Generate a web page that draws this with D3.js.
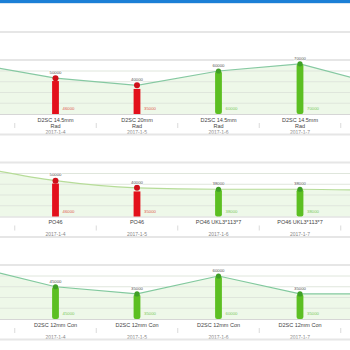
<!DOCTYPE html>
<html><head><meta charset="utf-8">
<script src="https://cdn.jsdelivr.net/npm/d3@7/dist/d3.min.js"></script>
<style>html,body{margin:0;padding:0;background:#fff;}svg{display:block;font-family:"Liberation Sans",Arial,sans-serif;}</style>
</head><body><svg id="c" width="350" height="350"></svg>
<script>
// ---- data ----
const dates = ["2017-1-4","2017-1-5","2017-1-6","2017-1-7"];
const gridTicks = [0,15000,30000,45000,60000];

const p1Labels = [["D2SC 14.5mm","Rad"],["D2SC 20mm","Rad"],["D2SC 14.5mm","Rad"],["D2SC 14.5mm","Rad"]];
const p1Plan   = [50000,40000,60000,70000];
const p1Actual = [46000,35000,60000,70000];
const p1Edges  = [70000,40000]; // line values of the neighbouring (off-screen) days

const p2Labels = [["PO46"],["PO46"],["PO46  UKL3*113*7"],["PO46  UKL3*113*7"]];
const p2Plan   = [50000,40000,38000,38000];
const p2Actual = [46000,35000,38000,38000];
const p2Edges  = [70000,36000];

const p3Labels = [["D2SC 12mm Con"],["D2SC 12mm Con"],["D2SC 12mm Con"],["D2SC 12mm Con"]];
const p3Plan   = [45000,35000,60000,35000];
const p3Actual = [45000,35000,60000,35000];
const p3Edges  = [73000,35000];

const panels = [
  {labels:p1Labels, plan:p1Plan, actual:p1Actual, edges:p1Edges, line:"#86c9a2", curve:d3.curveLinear},
  {labels:p2Labels, plan:p2Plan, actual:p2Actual, edges:p2Edges, line:"#b6dc98", curve:d3.curveMonotoneX},
  {labels:p3Labels, plan:p3Plan, actual:p3Actual, edges:p3Edges, line:"#82c99e", curve:d3.curveLinear}
];

// ---- drawing ----
const svg = d3.select("#c");
const W = 350;
svg.append("rect").attr("x",0).attr("y",0).attr("width",W).attr("height",3).attr("fill","#1c7fd6");
svg.append("rect").attr("x",0).attr("y",3).attr("width",W).attr("height",1).attr("fill","#d8e6f3");

const x = d3.scaleLinear().domain([0,3]).range([55.5,300]);
const step = x(1)-x(0);
const panelH = 102.5;

function sep(y){ svg.append("line").attr("x1",0).attr("x2",W).attr("y1",y).attr("y2",y).attr("stroke","#e6e6e6").attr("stroke-width",2); }

panels.forEach((p,i)=>{
  const oy = i*panelH;
  const base = 114 + oy;
  const y = d3.scaleLinear().domain([0,60000]).range([base, base-43]);
  sep(32+oy); sep(60+oy);
  const g = svg.append("g");

  const pts = [[-1,p.edges[0]]].concat(p.plan.map((v,k)=>[k,v])).concat([[4,p.edges[1]]]);
  const area = d3.area().x(d=>x(d[0])).y0(base).y1(d=>y(d[1])).curve(p.curve);
  const line = d3.line().x(d=>x(d[0])).y(d=>y(d[1])).curve(p.curve);
  g.append("path").datum(pts).attr("d",area).attr("fill","#eef8e9");
  // grid
  g.selectAll(".grid").data(gridTicks.slice(1)).join("line")
    .attr("x1",0).attr("x2",W).attr("y1",d=>y(d)).attr("y2",d=>y(d))
    .attr("stroke","#dfe6dc").attr("stroke-width",1);
  g.append("line").attr("x1",0).attr("x2",W).attr("y1",base+0.5).attr("y2",base+0.5).attr("stroke","#d6d6d6");
  g.append("path").datum(pts).attr("d",line).attr("fill","none").attr("stroke",p.line).attr("stroke-width",1.2);

  // dividers
  const divs = d3.range(-1,4).map(k=>x(k)+step/2);
  g.selectAll(".div").data(divs).join("line")
    .attr("x1",d=>d).attr("x2",d=>d).attr("y1",base+9).attr("y2",base+14)
    .attr("stroke","#d0d0d0").attr("stroke-width",0.8);

  p.plan.forEach((pv,k)=>{
    const av = p.actual[k];
    const ok = av >= pv;
    const col = ok ? "#5cbf22" : "#e3101b";
    const dotCol = ok ? "#3f9f26" : "#d0101a";
    const cx = x(k);
    g.append("rect").attr("x",cx-3.4).attr("y",y(av)).attr("width",6.8).attr("height",base-y(av))
      .attr("fill",col).attr("rx",ok?2:0);
    g.append("circle").attr("cx",cx).attr("cy",y(pv)).attr("r",ok?2.6:3).attr("fill",dotCol);
    g.append("text").attr("x",cx).attr("y",y(pv)-4.2).attr("text-anchor","middle")
      .attr("font-size",4.3).attr("fill","#555").attr("stroke","#fff").attr("stroke-width",1.5)
      .attr("paint-order","stroke").text(d3.format("d")(pv));
    g.append("text").attr("x",cx+7).attr("y",base-4).attr("font-size",4.3)
      .attr("fill", ok ? "#79c95a" : "#e0584f").text(d3.format("d")(av));
    const lines = p.labels[k];
    lines.forEach((t,j)=>{
      g.append("text").attr("x",cx).attr("y",base+7.6+j*6.3).attr("text-anchor","middle")
        .attr("font-size",5.5).attr("fill","#444").text(t);
    });
    g.append("text").attr("x",cx).attr("y",base+19.8).attr("text-anchor","middle")
      .attr("font-size",5).attr("fill","#888").text(dates[k]);
  });
});
sep(32+3*panelH);
</script></body></html>
